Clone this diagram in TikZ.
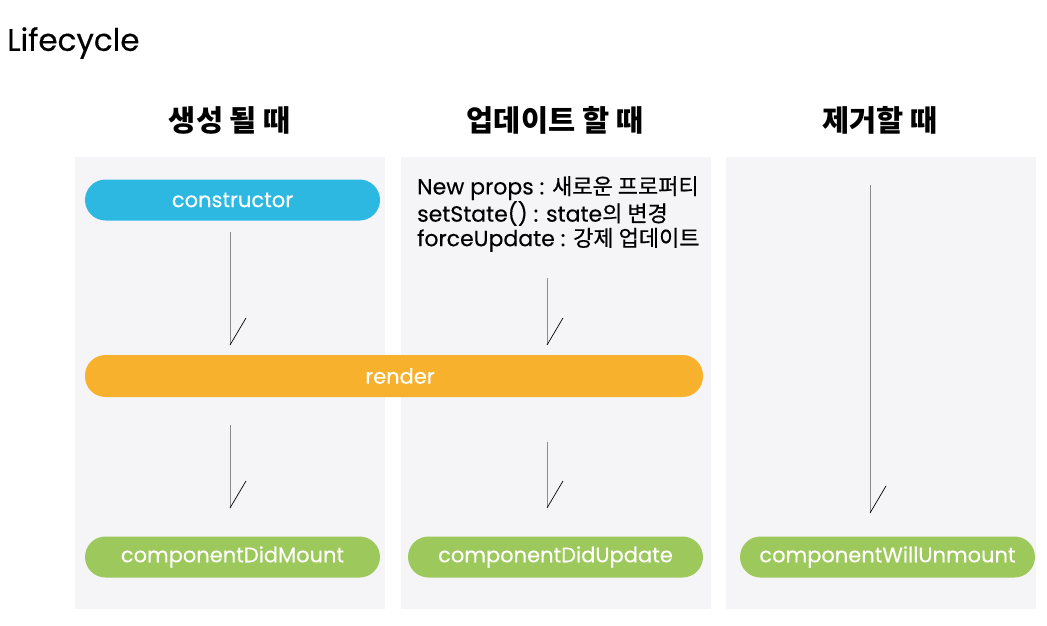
\documentclass[tikz,border=0pt]{standalone}
\usepackage{fontspec}
\setmainfont{Poppins}[FakeBold=0.3]
\newfontfamily\kr{Noto Sans CJK KR}
\newfontfamily\krb{Noto Sans CJK KR}[FakeBold=0.5]
\begin{document}
\begin{tikzpicture}[x=1pt,y=-1pt,
  panel/.style={fill=panelgray,draw=none},
  pill/.style={rounded corners=20.5pt,draw=none,text=white,font=\fontsize{21}{24}\selectfont},
  head/.style={font=\fontsize{29.5}{34}\selectfont\kr\bfseries},
  flow/.style={draw=black!45,line width=0.9pt},
  barb/.style={draw=black,line width=0.7pt}]
\definecolor{panelgray}{HTML}{F5F5F7}
\definecolor{cyanc}{HTML}{2DB8E2}
\definecolor{orangec}{HTML}{F7B12D}
\definecolor{greenc}{HTML}{9DC85C}
\useasboundingbox[fill=white] (0,0) rectangle (1047,626);
\node[anchor=west,inner sep=0pt,font=\fontsize{31}{34}\selectfont] (title) at (7,43) {Lifecycle};
\node[head] (h1) at (230,120) {생성 될 때};
\node[head] (h2) at (555,120) {업데이트 할 때};
\node[head] (h3) at (880,120) {제거할 때};
\path[panel] (75,157) rectangle (385,609);
\path[panel] (401,157) rectangle (711,609);
\path[panel] (726,157) rectangle (1036,609);
\node[pill,fill=cyanc,minimum width=295pt,minimum height=41pt] (ctor) at (232.5,200) {constructor};
\node[pill,fill=orangec,minimum width=618pt,minimum height=42pt] (render) at (394,376) {\hspace*{12pt}render};
\node[pill,fill=greenc,minimum width=295pt,minimum height=41pt] (mount) at (232.5,557) {componentDidMount};
\node[pill,fill=greenc,minimum width=295pt,minimum height=41pt] (update) at (555.5,557) {componentDidUpdate};
\node[pill,fill=greenc,minimum width=295pt,minimum height=41pt] (unmount) at (887.5,557) {componentWillUnmount};
\node[anchor=north west,align=left,inner sep=0pt,font=\fontsize{22}{24.5}\selectfont] (causes) at (417,176)
  {New props : {\krb 새로운 프로퍼티}\\setState() : state{\krb 의 변경}\\forceUpdate : {\krb 강제 업데이트}};
% arrows
\coordinate (a1s) at (230,232); \coordinate (a1e) at (230,345);
\coordinate (a2s) at (230,425); \coordinate (a2e) at (230,508);
\coordinate (a3s) at (547,278); \coordinate (a3e) at (547,345);
\coordinate (a4s) at (547,442); \coordinate (a4e) at (547,508);
\coordinate (a5s) at (870,185); \coordinate (a5e) at (870,513);
\foreach \s/\e in {a1s/a1e,a2s/a2e,a3s/a3e,a4s/a4e,a5s/a5e}{
  \draw[flow] (\s) -- (\e);
  \draw[barb] (\e) -- ++(16,-27);
}
\end{tikzpicture}
\end{document}
